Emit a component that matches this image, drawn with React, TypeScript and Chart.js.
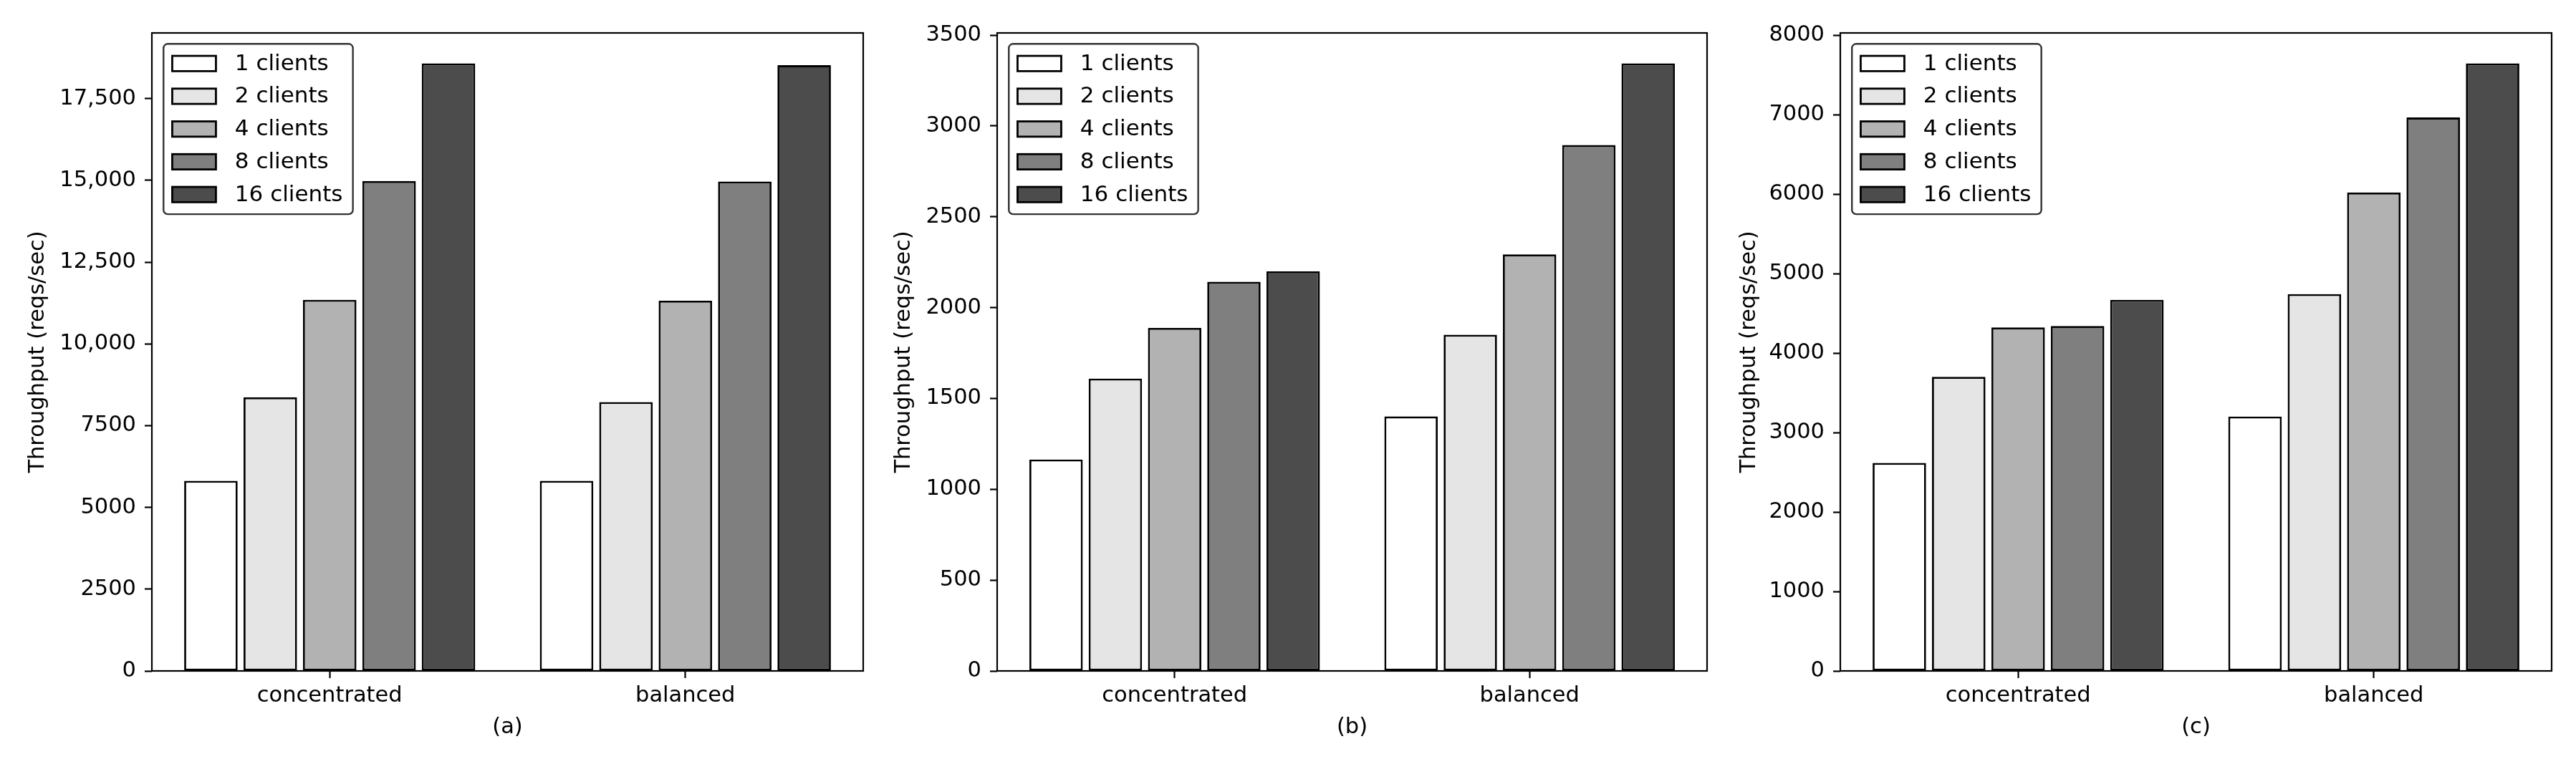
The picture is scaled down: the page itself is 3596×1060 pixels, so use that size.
import React, { useEffect, useRef } from "react";
import { Chart, registerables } from "chart.js";

Chart.register(...registerables);

// ---------- data ----------
const categories = ["concentrated", "balanced"];
const seriesLabels = ["1 clients", "2 clients", "4 clients", "8 clients", "16 clients"];
const seriesColors = ["#ffffff", "#e5e5e5", "#b2b2b2", "#7f7f7f", "#4c4c4c"];

// panel (a)
const panelAConcentrated = [5813, 8366, 11347, 14977, 18577];
const panelABalanced = [5813, 8219, 11317, 14962, 18518];
// panel (b)
const panelBConcentrated = [1164, 1609, 1888, 2142, 2200];
const panelBBalanced = [1401, 1851, 2293, 2895, 3345];
// panel (c)
const panelCConcentrated = [2618, 3702, 4323, 4341, 4670];
const panelCBalanced = [3202, 4743, 6021, 6965, 7647];

const panelLetters = ["(a)", "(b)", "(c)"];
const panelSteps = [2500, 500, 1000];
const yTitle = "Throughput (reqs/sec)";

// ---------- layout ----------
const FONT_FAMILY = "'DejaVu Sans', sans-serif";
const TICK_FONT = 30.5;
const LEGEND_FONT = 31;
const EM = 30.5;

type PanelLayout = {
  canvasLeft: number;
  canvasWidth: number;
  plotLeft: number;
  plotRight: number;
  yTitlePad: number;
};

const layouts: PanelLayout[] = [
  { canvasLeft: 0, canvasWidth: 1210, plotLeft: 212, plotRight: 1205, yTitlePad: 35 },
  { canvasLeft: 1210, canvasWidth: 1178, plotLeft: 1392, plotRight: 2383, yTitlePad: 34 },
  { canvasLeft: 2388, canvasWidth: 1208, plotLeft: 2569, plotRight: 3562, yTitlePad: 36 },
];

const fmt = (v: number) => (v >= 10000 ? v.toLocaleString("en-US") : String(v));

const framePlugin = {
  id: "frame",
  afterDatasetsDraw(chart: any) {
    const { ctx, chartArea } = chart;
    ctx.save();
    ctx.strokeStyle = "#000";
    ctx.lineWidth = 2.2;
    ctx.strokeRect(chartArea.left, chartArea.top, chartArea.right - chartArea.left, chartArea.bottom - chartArea.top);
    ctx.restore();
  },
};

const legendPlugin = {
  id: "boxLegend",
  afterDraw(chart: any) {
    const { ctx, chartArea } = chart;
    const datasets = chart.data.datasets;
    ctx.save();
    ctx.font = `${LEGEND_FONT}px ${FONT_FAMILY}`;
    let maxW = 0;
    datasets.forEach((d: any) => {
      maxW = Math.max(maxW, ctx.measureText(d.label).width);
    });
    const pad = 0.4 * EM;
    const handleW = 2.0 * EM;
    const handleH = 0.7 * EM;
    const textPad = 0.8 * EM + 2;
    const rowH = 1.0 * EM;
    const rowGap = 0.5 * EM;
    const x0 = chartArea.left + 0.5 * EM + 1;
    const y0 = chartArea.top + 0.5 * EM;
    const w = pad + handleW + textPad + maxW + pad + 2;
    const h = pad * 2 + rowH * datasets.length + rowGap * (datasets.length - 1);
    const r = 6;
    ctx.beginPath();
    ctx.moveTo(x0 + r, y0);
    ctx.arcTo(x0 + w, y0, x0 + w, y0 + h, r);
    ctx.arcTo(x0 + w, y0 + h, x0, y0 + h, r);
    ctx.arcTo(x0, y0 + h, x0, y0, r);
    ctx.arcTo(x0, y0, x0 + w, y0, r);
    ctx.closePath();
    ctx.fillStyle = "rgba(255,255,255,0.8)";
    ctx.fill();
    ctx.strokeStyle = "#333333";
    ctx.lineWidth = 2.4;
    ctx.stroke();

    datasets.forEach((d: any, i: number) => {
      const cy = y0 + pad + rowH / 2 + i * (rowH + rowGap);
      const px = x0 + pad;
      ctx.fillStyle = d.backgroundColor;
      ctx.fillRect(px, cy - handleH / 2, handleW, handleH);
      ctx.strokeStyle = "#000";
      ctx.lineWidth = 2.8;
      ctx.strokeRect(px, cy - handleH / 2, handleW, handleH);
      ctx.fillStyle = "#000";
      ctx.textAlign = "left";
      ctx.textBaseline = "middle";
      ctx.fillText(d.label, px + handleW + textPad, cy + 1);
    });
    ctx.restore();
  },
};

function Panel({ index }: { index: number }) {
  const ref = useRef<HTMLCanvasElement | null>(null);
  const lay = layouts[index];
  useEffect(() => {
    if (!ref.current) return;
    const allConc = [panelAConcentrated, panelBConcentrated, panelCConcentrated][index];
    const allBal = [panelABalanced, panelBBalanced, panelCBalanced][index];
    const step = panelSteps[index];
    const maxVal = Math.max(...allConc, ...allBal) * 1.05;
    const tickFont = { family: FONT_FAMILY, size: TICK_FONT };
    const chart = new Chart(ref.current, {
      type: "bar",
      data: {
        labels: categories,
        datasets: seriesLabels.map((label, i) => ({
          label,
          data: [allConc[i], allBal[i]],
          backgroundColor: seriesColors[i],
          borderColor: "#000000",
          borderWidth: 2.8,
          borderSkipped: false,
          categoryPercentage: 0.835,
          barPercentage: 0.9,
        })),
      },
      options: {
        animation: false,
        responsive: false,
        maintainAspectRatio: false,
        devicePixelRatio: 1,
        layout: { padding: { top: 46, left: 0, bottom: 0, right: lay.canvasLeft + lay.canvasWidth - lay.plotRight } },
        plugins: { legend: { display: false }, tooltip: { enabled: false }, title: { display: false } },
        scales: {
          x: {
            type: "category",
            offset: true,
            grid: { display: true, drawOnChartArea: false, drawTicks: true, tickLength: 10, tickWidth: 2.2, tickColor: "#000", offset: false },
            border: { display: false },
            ticks: { font: tickFont, color: "#000", padding: 7, maxRotation: 0, autoSkip: false },
            title: { display: true, text: panelLetters[index], font: tickFont, color: "#000", padding: { top: 0, bottom: 25.7 } },
            afterFit: (s: any) => {
              s.height = 123;
            },
          },
          y: {
            type: "linear",
            min: 0,
            max: maxVal,
            grid: { display: true, drawOnChartArea: false, drawTicks: true, tickLength: 10, tickWidth: 2.2, tickColor: "#000" },
            border: { display: false },
            ticks: { font: tickFont, color: "#000", padding: 12, autoSkip: false, callback: (v: any) => fmt(Number(v)) },
            afterBuildTicks: (s: any) => {
              const t: { value: number }[] = [];
              for (let v = 0; v <= maxVal; v += step) t.push({ value: v });
              s.ticks = t;
            },
            title: { display: true, text: yTitle, font: tickFont, color: "#000", padding: { top: lay.yTitlePad, bottom: 0 } },
            afterFit: (s: any) => {
              s.width = lay.plotLeft - lay.canvasLeft;
            },
          },
        },
      } as any,
      plugins: [framePlugin, legendPlugin],
    });
    return () => chart.destroy();
  }, [index]);
  return (
    <canvas
      ref={ref}
      width={lay.canvasWidth}
      height={1060}
      style={{ position: "absolute", left: lay.canvasLeft, top: 0, width: lay.canvasWidth, height: 1060 }}
    />
  );
}

export default function App() {
  useEffect(() => {
    document.body.style.margin = "0";
    document.body.style.background = "#ffffff";
  }, []);
  return (
    <div style={{ position: "relative", width: 3596, height: 1060, background: "#fff", overflow: "hidden" }}>
      <Panel index={0} />
      <Panel index={1} />
      <Panel index={2} />
    </div>
  );
}
